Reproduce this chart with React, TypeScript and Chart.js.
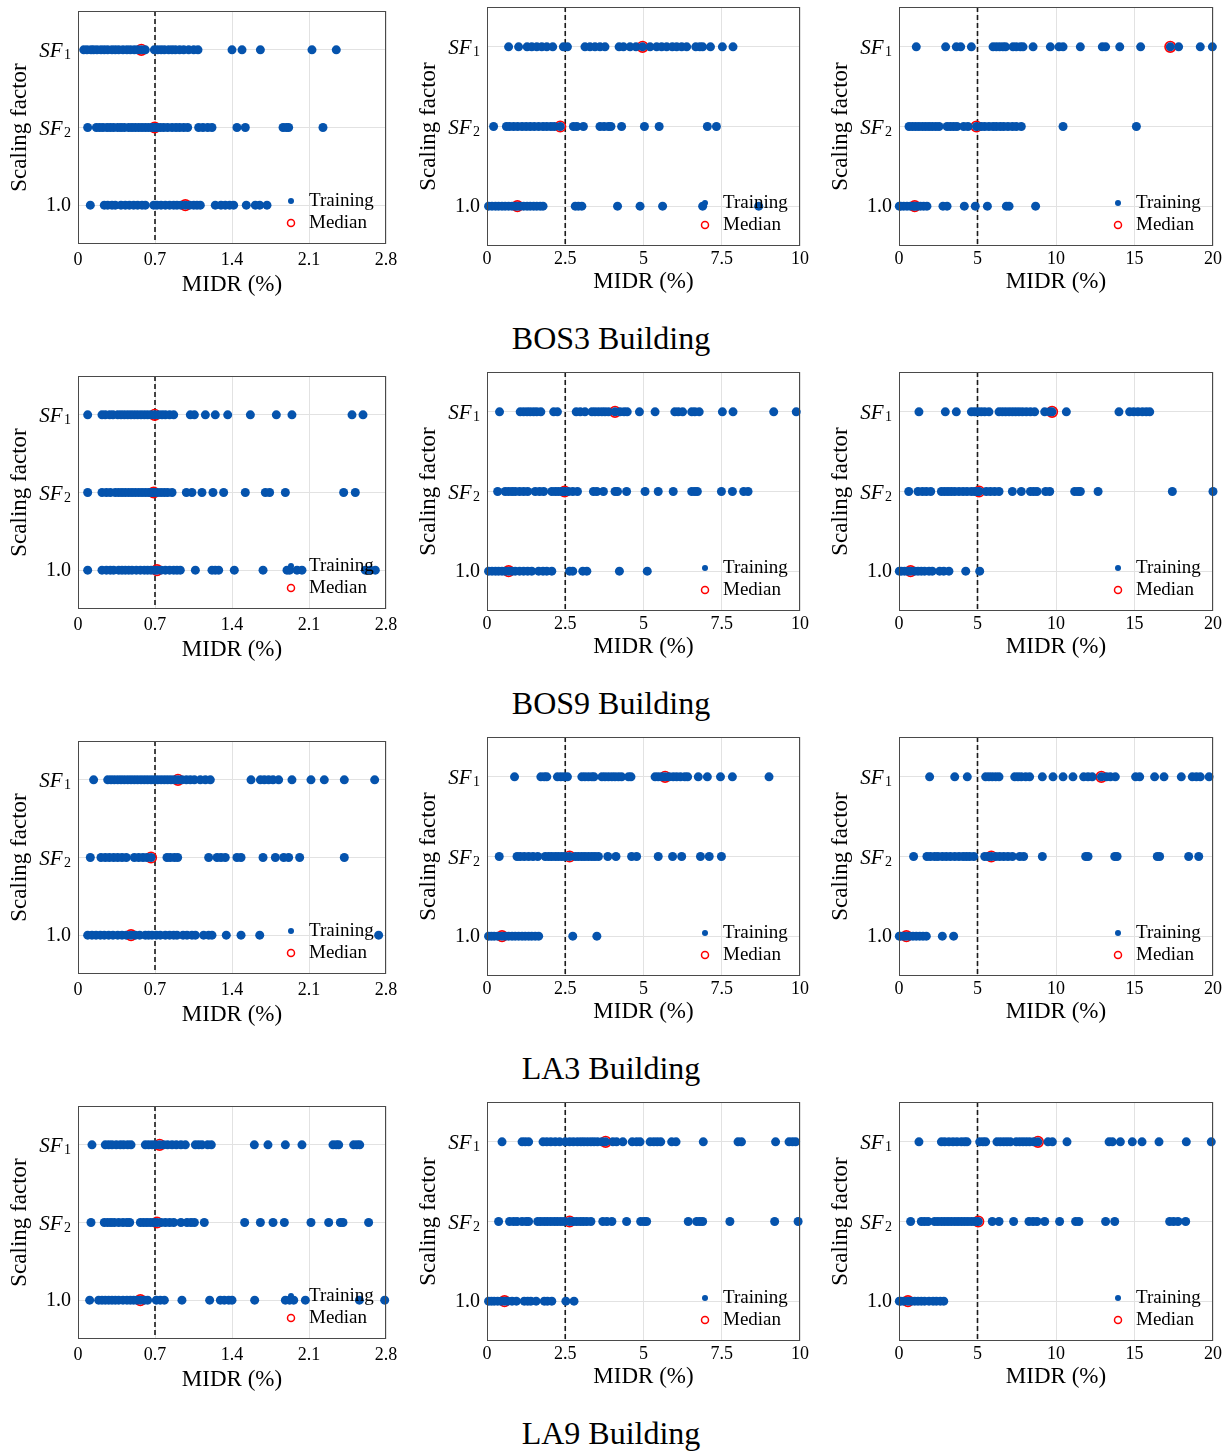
import React, { useEffect, useRef } from 'react';
import { Chart, registerables } from 'chart.js';
Chart.register(...registerables);

// ---------- labels / ticks ----------
const buildings = ['BOS3 Building', 'BOS9 Building', 'LA3 Building', 'LA9 Building'];
const rowLabels = ['SF1', 'SF2', '1.0']; // plotted at y = 2, 1, 0
const legendLabels = ['Training', 'Median'];
const xTitle = 'MIDR (%)';
const yTitle = 'Scaling factor';
const xMax = [2.8, 10, 20];
const xTickValues = [[0, 0.7, 1.4, 2.1, 2.8], [0, 2.5, 5, 7.5, 10], [0, 5, 10, 15, 20]];
const xTickLabels = [['0', '0.7', '1.4', '2.1', '2.8'], ['0', '2.5', '5', '7.5', '10'], ['0', '5', '10', '15', '20']];
const refLines = [0.7, 2.5, 5];

// ---------- data: BOS3 ----------
const bos3_a_sf1 = [0.052,0.082,0.118,0.142,0.173,0.209,0.239,0.270,0.309,0.339,0.370,0.409,0.445,0.476,0.512,0.542,0.576,0.612,0.694,0.724,0.755,0.785,0.824,0.855,0.885,0.924,0.961,1.006,1.052,1.091,1.40,1.491,1.658,2.127,2.348];
const bos3_a_sf2 = [0.088,0.167,0.197,0.227,0.264,0.294,0.324,0.361,0.391,0.421,0.461,0.491,0.521,0.552,0.582,0.612,0.642,0.673,0.697,0.718,0.748,0.779,0.815,0.855,0.891,0.924,0.961,0.997,1.097,1.136,1.179,1.218,1.445,1.521,1.864,1.894,1.915,2.227];
const bos3_a_one = [0.112,0.239,0.270,0.309,0.339,0.391,0.430,0.467,0.506,0.542,0.582,0.612,0.688,0.718,0.755,0.794,0.833,0.870,0.900,0.936,0.976,1.015,1.052,1.082,1.112,1.248,1.300,1.339,1.379,1.415,1.530,1.612,1.652,1.718];
const bos3_a_median = [0.576, 0.697, 0.976];

const bos3_b_sf1 = [0.69,1.01,1.28,1.43,1.59,1.75,1.91,2.10,2.44,2.57,3.13,3.29,3.45,3.61,3.77,4.22,4.36,4.57,4.76,4.97,5.21,5.42,5.58,5.74,5.92,6.06,6.22,6.38,6.67,6.80,6.89,7.14,7.52,7.86];
const bos3_b_sf2 = [0.21,0.62,0.72,0.85,0.98,1.12,1.25,1.38,1.51,1.65,1.79,1.91,2.04,2.15,2.34,2.76,2.87,3.08,3.61,3.74,3.88,3.96,4.30,5.03,5.50,7.04,7.33];
const bos3_b_one = [0.05,0.16,0.27,0.37,0.48,0.58,0.69,0.80,0.90,0.97,1.06,1.17,1.28,1.38,1.49,1.59,1.70,1.79,2.82,2.92,3.03,4.17,4.89,5.61,6.89,8.68];
const bos3_b_median = [4.97, 2.34, 0.97];

const bos3_c_sf1 = [1.10,2.97,3.65,3.93,4.61,5.99,6.20,6.41,6.62,6.79,7.26,7.47,7.73,7.90,8.54,9.64,10.19,10.45,11.55,12.95,13.16,14.06,15.39,17.28,17.81,19.19,19.96];
const bos3_c_sf2 = [0.64,0.85,1.06,1.27,1.49,1.70,1.91,2.12,2.34,2.55,3.06,3.27,3.48,3.69,4.12,4.39,4.93,5.24,5.46,5.73,5.99,6.20,6.45,6.67,6.94,7.22,7.47,7.79,10.45,15.12];
const bos3_c_one = [0.02,0.11,0.30,0.51,0.72,0.93,1.0,1.15,1.36,1.57,1.78,2.80,3.06,4.16,4.86,5.63,6.84,7.01,8.70];
const bos3_c_median = [17.28, 4.93, 1.0];

// ---------- data: BOS9 ----------
const bos9_a_sf1 = [0.088,0.218,0.248,0.288,0.318,0.361,0.391,0.421,0.452,0.482,0.512,0.542,0.573,0.603,0.633,0.664,0.697,0.733,0.764,0.794,0.833,0.870,1.021,1.058,1.158,1.248,1.361,1.567,1.803,1.945,2.491,2.591];
const bos9_a_sf2 = [0.088,0.218,0.258,0.294,0.339,0.370,0.400,0.430,0.461,0.491,0.521,0.552,0.582,0.612,0.642,0.673,0.688,0.724,0.755,0.785,0.815,0.855,0.985,1.036,1.127,1.227,1.324,1.521,1.703,1.742,1.885,2.415,2.521];
const bos9_a_one = [0.088,0.218,0.258,0.294,0.324,0.370,0.400,0.430,0.461,0.491,0.530,0.567,0.603,0.633,0.664,0.694,0.718,0.755,0.794,0.833,0.870,0.900,0.930,1.067,1.218,1.248,1.279,1.421,1.682,1.900,1.924,1.991,2.036,2.612,2.658,2.703];
const bos9_a_median = [0.697, 0.688, 0.718];

const bos9_b_sf1 = [0.40,1.06,1.17,1.28,1.38,1.49,1.59,1.72,2.13,2.25,2.85,2.98,3.13,3.35,3.45,3.56,3.67,3.77,3.88,4.09,4.25,4.38,4.48,4.87,5.37,6.00,6.11,6.25,6.54,6.64,6.78,7.52,7.86,9.16,9.88];
const bos9_b_sf2 = [0.34,0.58,0.69,0.80,0.90,1.04,1.17,1.30,1.54,1.68,1.81,2.07,2.18,2.28,2.39,2.48,2.60,2.74,2.89,3.40,3.51,3.72,4.09,4.17,4.46,5.05,5.47,5.95,6.54,6.64,6.72,7.49,7.84,8.20,8.34];
const bos9_b_one = [0.05,0.16,0.27,0.37,0.48,0.58,0.69,0.80,0.90,1.04,1.17,1.30,1.43,1.65,1.79,1.91,2.07,2.64,2.74,3.06,3.19,4.23,5.12];
const bos9_b_median = [4.09, 2.48, 0.69];

const bos9_c_sf1 = [1.27,2.95,3.65,4.61,4.82,5.03,5.24,5.46,5.73,6.37,6.58,6.79,7.01,7.22,7.43,7.64,7.86,8.11,8.37,8.64,9.28,9.60,9.75,10.66,14.01,14.69,14.95,15.22,15.50,15.75,15.97];
const bos9_c_sf2 = [0.62,1.21,1.49,1.74,2.02,2.70,2.91,3.12,3.33,3.55,3.82,4.08,4.33,4.61,4.82,5.03,5.10,5.56,5.82,6.09,6.37,7.22,7.79,8.37,8.58,8.79,9.34,9.60,11.19,11.40,11.55,12.68,17.41,20.0];
const bos9_c_one = [0.02,0.15,0.36,0.57,0.74,1.0,1.21,1.42,1.63,1.91,2.12,2.59,2.85,3.18,4.25,5.14];
const bos9_c_median = [9.75, 5.10, 0.74];

// ---------- data: LA3 ----------
const la3_a_sf1 = [0.142,0.270,0.300,0.330,0.361,0.391,0.421,0.452,0.482,0.512,0.542,0.573,0.603,0.633,0.664,0.694,0.724,0.755,0.785,0.815,0.845,0.876,0.909,0.945,0.985,1.021,1.058,1.112,1.158,1.203,1.573,1.658,1.694,1.733,1.773,1.824,1.945,2.118,2.239,2.421,2.697];
const la3_a_sf2 = [0.112,0.209,0.248,0.285,0.324,0.361,0.400,0.439,0.512,0.552,0.591,0.627,0.664,0.809,0.839,0.876,0.906,1.188,1.264,1.300,1.339,1.445,1.482,1.682,1.794,1.870,1.915,2.015,2.421];
const la3_a_one = [0.088,0.127,0.164,0.203,0.239,0.279,0.318,0.361,0.400,0.439,0.482,0.521,0.561,0.612,0.642,0.673,0.712,0.748,0.794,0.833,0.870,0.900,0.955,0.991,1.036,1.067,1.142,1.188,1.218,1.348,1.482,1.652,2.733];
const la3_a_median = [0.909, 0.664, 0.482];

const la3_b_sf1 = [0.88,1.72,1.83,1.91,2.25,2.36,2.47,2.57,3.03,3.13,3.24,3.35,3.42,3.67,3.77,3.88,3.99,4.09,4.20,4.30,4.52,4.60,5.37,5.47,5.58,5.69,5.82,5.95,6.06,6.18,6.32,6.41,6.75,7.04,7.46,7.84,9.01];
const la3_b_sf2 = [0.39,0.96,1.06,1.19,1.33,1.47,1.62,1.86,1.97,2.07,2.18,2.28,2.39,2.50,2.64,2.82,2.92,3.03,3.13,3.24,3.35,3.45,3.56,3.86,4.12,4.62,4.78,5.47,5.93,6.22,6.82,7.10,7.49];
const la3_b_one = [0.05,0.14,0.23,0.34,0.48,0.58,0.69,0.80,0.90,1.01,1.12,1.22,1.33,1.43,1.54,1.65,2.74,3.51];
const la3_b_median = [5.69, 2.64, 0.48];

const la3_c_sf1 = [1.95,3.55,4.35,5.52,5.73,5.94,6.16,6.37,7.37,7.58,7.79,8.07,8.32,9.13,9.81,10.45,11.08,11.76,12.04,12.31,12.89,13.21,13.46,13.78,15.07,15.33,16.28,16.88,17.98,18.68,18.94,19.19,19.75];
const la3_c_sf2 = [0.93,1.78,2.00,2.27,2.48,2.76,3.01,3.27,3.55,3.82,4.08,4.29,4.50,4.76,5.46,5.67,5.88,6.16,6.41,6.67,6.94,7.22,7.69,7.94,9.13,11.89,12.04,13.74,13.89,16.45,16.60,18.45,19.09];
const la3_c_one = [0.02,0.11,0.30,0.47,0.68,0.89,1.10,1.32,1.53,1.74,2.76,3.48];
const la3_c_median = [12.89, 5.88, 0.47];

// ---------- data: LA9 ----------
const la9_a_sf1 = [0.127,0.248,0.279,0.309,0.348,0.385,0.415,0.452,0.482,0.612,0.642,0.673,0.703,0.742,0.779,0.815,0.855,0.894,0.936,0.976,1.067,1.097,1.127,1.179,1.212,1.603,1.727,1.885,2.036,2.318,2.348,2.370,2.506,2.536,2.561];
const la9_a_sf2 = [0.118,0.239,0.270,0.300,0.330,0.370,0.409,0.445,0.470,0.567,0.597,0.627,0.658,0.688,0.718,0.755,0.794,0.833,0.870,0.936,0.991,1.027,1.058,1.148,1.515,1.658,1.773,1.876,2.118,2.279,2.385,2.409,2.642];
const la9_a_one = [0.106,0.188,0.218,0.248,0.279,0.309,0.339,0.370,0.409,0.445,0.476,0.506,0.536,0.567,0.603,0.633,0.712,0.748,0.785,0.945,1.197,1.294,1.330,1.370,1.400,1.606,1.885,1.924,1.961,2.067,2.558,2.788];
const la9_a_median = [0.742, 0.718, 0.567];

const la9_b_sf1 = [0.48,1.12,1.22,1.33,1.79,1.91,2.04,2.18,2.32,2.50,2.64,2.76,2.89,3.00,3.10,3.21,3.32,3.42,3.53,3.67,3.79,4.02,4.14,4.34,4.64,4.78,4.89,5.21,5.33,5.44,5.55,5.90,6.04,6.91,8.02,8.13,9.22,9.65,9.76,9.86];
const la9_b_sf2 = [0.37,0.72,0.85,0.96,1.12,1.25,1.33,1.62,1.72,1.83,1.93,2.04,2.15,2.25,2.36,2.47,2.64,2.76,2.87,2.98,3.08,3.19,3.32,3.70,3.83,3.99,4.46,4.91,5.02,5.10,6.43,6.70,6.80,6.89,7.76,9.19,9.94];
const la9_b_one = [0.05,0.14,0.23,0.34,0.45,0.56,0.66,0.80,0.94,1.19,1.30,1.40,1.57,1.83,1.93,2.07,2.52,2.78];
const la9_b_median = [3.79, 2.64, 0.56];

const la9_c_sf1 = [1.27,2.70,2.91,3.18,3.44,3.69,3.97,4.18,4.33,5.14,5.35,5.52,6.24,6.45,6.67,6.88,7.09,7.47,7.69,7.90,8.11,8.32,8.58,8.85,9.49,9.77,10.70,13.38,13.59,14.10,14.86,15.48,16.56,18.30,19.89];
const la9_c_sf2 = [0.74,1.42,1.63,1.85,2.27,2.48,2.70,2.91,3.12,3.33,3.55,3.76,3.97,4.18,4.39,4.61,4.82,5.05,5.94,6.37,7.30,8.28,8.54,8.79,9.28,10.23,11.25,11.46,13.16,13.74,17.24,17.49,17.77,18.26];
const la9_c_one = [0.02,0.11,0.30,0.57,0.79,1.00,1.21,1.42,1.63,1.91,2.17,2.38,2.63,2.85];
const la9_c_median = [8.85, 5.05, 0.57];

const panelData = [
  [[bos3_a_sf1, bos3_a_sf2, bos3_a_one, bos3_a_median], [bos3_b_sf1, bos3_b_sf2, bos3_b_one, bos3_b_median], [bos3_c_sf1, bos3_c_sf2, bos3_c_one, bos3_c_median]],
  [[bos9_a_sf1, bos9_a_sf2, bos9_a_one, bos9_a_median], [bos9_b_sf1, bos9_b_sf2, bos9_b_one, bos9_b_median], [bos9_c_sf1, bos9_c_sf2, bos9_c_one, bos9_c_median]],
  [[la3_a_sf1, la3_a_sf2, la3_a_one, la3_a_median], [la3_b_sf1, la3_b_sf2, la3_b_one, la3_b_median], [la3_c_sf1, la3_c_sf2, la3_c_one, la3_c_median]],
  [[la9_a_sf1, la9_a_sf2, la9_a_one, la9_a_median], [la9_b_sf1, la9_b_sf2, la9_b_one, la9_b_median], [la9_c_sf1, la9_c_sf2, la9_c_one, la9_c_median]],
];

// ---------- layout / style ----------
const FONT = '"Liberation Serif", "Times New Roman", serif';
const BLUE = '#0553ad';
const RED = '#ff0000';
const GRID = '#e2e2e2';
const ROW_STEP = 365;
const Y_AXIS_W = 72;
const PAD_TOP = 16;
const PAD_RIGHT = 25;
const X_AXIS_H = 62;
const colGeom = [
  { left: 78, right: 386, top: 11, bottom: 244, tickPad: 5, titlePad: 7 },
  { left: 487, right: 800, top: 7, bottom: 246, tickPad: 2, titlePad: 12 },
  { left: 899, right: 1213, top: 7, bottom: 246, tickPad: 2, titlePad: 12 },
];

function makeDeco(c: number) {
  return {
    id: 'panelDeco',
    beforeDatasetsDraw(chart: any) {
      const { ctx, chartArea: a, scales } = chart;
      const px = scales.x.getPixelForValue(refLines[c]);
      ctx.save();
      ctx.beginPath();
      ctx.setLineDash([5, 3]);
      ctx.strokeStyle = '#1a1a1a';
      ctx.lineWidth = 1.6;
      ctx.moveTo(px, a.top);
      ctx.lineTo(px, a.bottom);
      ctx.stroke();
      ctx.restore();
    },
    afterDraw(chart: any) {
      const { ctx, chartArea: a, scales } = chart;
      ctx.save();
      // box
      ctx.strokeStyle = '#4a4a4a';
      ctx.lineWidth = 1;
      ctx.strokeRect(Math.round(a.left) + 0.5, Math.round(a.top) + 0.5, Math.round(a.width) - 1, Math.round(a.height) - 1);
      // y labels
      ctx.fillStyle = '#000';
      rowLabels.forEach((lab, i) => {
        const y = scales.y.getPixelForValue(2 - i);
        const rx = a.left - 7;
        if (lab.startsWith('SF')) {
          const sub = lab.slice(2);
          ctx.font = 'italic 21px ' + FONT;
          const w1 = ctx.measureText('SF').width;
          ctx.font = '14px ' + FONT;
          const w2 = ctx.measureText(sub).width;
          const sx = rx - (w1 + 1.5 + w2);
          ctx.textAlign = 'left';
          ctx.textBaseline = 'alphabetic';
          ctx.font = 'italic 21px ' + FONT;
          ctx.fillText('SF', sx, y + 7);
          ctx.font = '14px ' + FONT;
          ctx.fillText(sub, sx + w1 + 1.5, y + 9);
        } else {
          ctx.font = '20px ' + FONT;
          ctx.textAlign = 'right';
          ctx.textBaseline = 'middle';
          ctx.fillText(lab, rx, y + 1);
        }
      });
      // legend
      const lx = a.right - 95;
      const ly1 = a.bottom - 43;
      const ly2 = a.bottom - 21;
      ctx.beginPath();
      ctx.fillStyle = BLUE;
      ctx.arc(lx, ly1, 3, 0, Math.PI * 2);
      ctx.fill();
      ctx.beginPath();
      ctx.strokeStyle = RED;
      ctx.lineWidth = 1.5;
      ctx.arc(lx, ly2, 3.5, 0, Math.PI * 2);
      ctx.stroke();
      ctx.fillStyle = '#000';
      ctx.font = '19px ' + FONT;
      ctx.textAlign = 'left';
      ctx.textBaseline = 'middle';
      ctx.fillText(legendLabels[0], a.right - 77, ly1);
      ctx.fillText(legendLabels[1], a.right - 77, ly2);
      ctx.restore();
    },
  };
}

function Panel({ b, c }: { b: number; c: number }) {
  const ref = useRef<HTMLCanvasElement>(null);
  const g = colGeom[c];
  const W = Y_AXIS_W + (g.right - g.left) + PAD_RIGHT;
  const H = PAD_TOP + (g.bottom - g.top) + X_AXIS_H;
  useEffect(() => {
    if (!ref.current) return;
    const [sf1, sf2, one, med] = panelData[b][c];
    const training = [
      ...sf1.map((x) => ({ x, y: 2 })),
      ...sf2.map((x) => ({ x, y: 1 })),
      ...one.map((x) => ({ x, y: 0 })),
    ];
    const medians = med.map((x, i) => ({ x, y: 2 - i }));
    const chart = new Chart(ref.current, {
      type: 'scatter',
      data: {
        datasets: [
          { label: legendLabels[0], data: training, pointRadius: 4.5, pointBackgroundColor: BLUE, pointBorderWidth: 0, borderWidth: 0, clip: false } as any,
          { label: legendLabels[1], data: medians, pointRadius: 5.3, pointBackgroundColor: 'rgba(0,0,0,0)', pointBorderColor: RED, pointBorderWidth: 1.6, clip: false } as any,
        ],
      },
      options: {
        responsive: false,
        animation: false,
        events: [],
        layout: { padding: { left: 0, top: PAD_TOP, right: PAD_RIGHT, bottom: 0 } },
        plugins: { legend: { display: false }, tooltip: { enabled: false } },
        scales: {
          x: {
            type: 'linear',
            min: 0,
            max: xMax[c],
            afterBuildTicks: (s: any) => { s.ticks = xTickValues[c].map((v) => ({ value: v })); },
            afterFit: (s: any) => { s.height = X_AXIS_H; },
            grid: { color: GRID, drawTicks: false, lineWidth: 1 },
            border: { display: false },
            ticks: {
              padding: g.tickPad,
              font: { family: FONT, size: 18 },
              color: '#000',
              maxRotation: 0,
              autoSkip: false,
              callback: (_v: any, i: number) => xTickLabels[c][i],
            },
            title: { display: true, text: xTitle, font: { family: FONT, size: 23 }, color: '#000', padding: { top: 0, bottom: g.titlePad } },
          },
          y: {
            type: 'linear',
            min: -0.5,
            max: 2.5,
            afterBuildTicks: (s: any) => { s.ticks = [0, 1, 2].map((v) => ({ value: v })); },
            afterFit: (s: any) => { s.width = Y_AXIS_W; },
            grid: { color: GRID, drawTicks: false, lineWidth: 1 },
            border: { display: false },
            ticks: { display: false },
            title: { display: true, text: yTitle, font: { family: FONT, size: 23 }, color: '#000', padding: { top: 0, bottom: 0 } },
          },
        },
      } as any,
      plugins: [makeDeco(c)],
    });
    return () => chart.destroy();
  }, [b, c]);
  return (
    <canvas
      ref={ref}
      width={W}
      height={H}
      style={{ position: 'absolute', left: g.left - Y_AXIS_W, top: g.top - PAD_TOP + b * ROW_STEP, width: W, height: H }}
    />
  );
}

export default function App() {
  return (
    <div style={{ position: 'absolute', left: 0, top: 0, width: 1231, height: 1451, background: '#fff', overflow: 'hidden' }}>
      {buildings.map((name, b) => (
        <React.Fragment key={name}>
          {[0, 1, 2].map((c) => <Panel key={c} b={b} c={c} />)}
          <div
            style={{
              position: 'absolute', left: 0, width: 1222, top: 338 + b * ROW_STEP - 18, height: 36,
              lineHeight: '36px', textAlign: 'center', fontFamily: FONT, fontSize: 32, color: '#000',
            }}
          >
            {name}
          </div>
        </React.Fragment>
      ))}
    </div>
  );
}
